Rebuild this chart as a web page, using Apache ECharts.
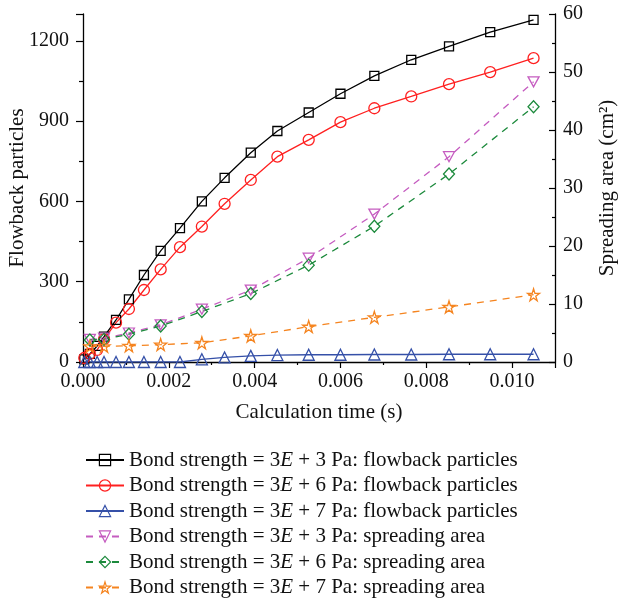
<!DOCTYPE html>
<html>
<head>
<meta charset="utf-8">
<script src="https://cdn.jsdelivr.net/npm/echarts@6/dist/echarts.min.js"></script>
<style>html,body{margin:0;padding:0;background:#fff;}#c{width:618px;height:599px;}</style>
</head>
<body>
<div id="c"></div>
<script>
// Time values (s) for flowback series
var timeFlow = [0.00003, 0.00016, 0.00033, 0.00049, 0.00077, 0.00107, 0.00142, 0.00181, 0.00226, 0.00277,
                0.0033, 0.00391, 0.00453, 0.00526, 0.006, 0.00679, 0.00765, 0.00853, 0.00949, 0.0105];
// Time values (s) for spreading area series
var timeSpread = [0.00016, 0.00049, 0.00107, 0.00181, 0.00277, 0.00391, 0.00526, 0.00679, 0.00853, 0.0105];

var flow3 = [10, 30, 60, 95, 157, 234, 325, 415, 500, 600, 688, 782, 863, 932, 1002, 1069, 1129, 1179, 1232, 1278];
var flow6 = [15, 30, 45, 85, 147, 198, 269, 346, 429, 506, 591, 680, 767, 830, 896, 948, 992, 1038, 1083, 1135];
var flow7 = [0, 0, 0, 0, 0, 0, 0, 0, 0, 10, 17, 23, 26, 27, 27, 28, 28, 29, 29, 29];

var spread3 = [3.9, 4.1, 5.0, 6.4, 9.1, 12.4, 17.9, 25.5, 35.4, 48.3];
var spread6 = [3.8, 3.9, 4.8, 6.2, 8.7, 11.8, 16.7, 23.4, 32.4, 44.0];
var spread7 = [2.7, 2.7, 2.8, 3.0, 3.3, 4.5, 6.1, 7.7, 9.5, 11.6];

var names = [
  'Bond strength = 3E + 3 Pa: flowback particles',
  'Bond strength = 3E + 6 Pa: flowback particles',
  'Bond strength = 3E + 7 Pa: flowback particles',
  'Bond strength = 3E + 3 Pa: spreading area',
  'Bond strength = 3E + 6 Pa: spreading area',
  'Bond strength = 3E + 7 Pa: spreading area'
];
var colors = ['#000000', '#ff2020', '#3550a8', '#c55cc0', '#1c8a3c', '#f5841f'];

function pairs(xs, ys) { return xs.map(function (x, i) { return [x, ys[i]]; }); }

var FONT = 'Liberation Serif';
var downTri = 'path://M0,0 L10,0 L5,9 Z';
var star = 'path://M50,0 L61,35 L98,35 L68,57 L79,91 L50,70 L21,91 L32,57 L2,35 L39,35 Z';

function mk(idx, data, symbol, size, yIdx, dashed) {
  var color = colors[idx];
  return {
    name: names[idx], type: 'line', yAxisIndex: yIdx, data: data,
    symbol: symbol, symbolSize: size, showAllSymbol: true,
    lineStyle: { color: color, width: 1.3, type: dashed ? [7, 6] : 'solid' },
    itemStyle: { color: 'rgba(255,255,255,0)', borderColor: color, borderWidth: 1.3 },
    emphasis: { disabled: true },
    z: 2
  };
}

var chart = echarts.init(document.getElementById('c'), null, { renderer: 'canvas' });
var axisText = { color: '#111', fontFamily: FONT, fontSize: 20 };
var nameText = { fontFamily: FONT, fontSize: 21, color: '#111' };
chart.setOption({
  animation: false,
  backgroundColor: '#fff',
  textStyle: { fontFamily: FONT },
  grid: { left: 83, right: 63, top: 14, bottom: 237, containLabel: false, outerBoundsMode: 'none' },
  legend: {
    orient: 'vertical', left: 80, top: 444, height: 160,
    itemWidth: 38, itemHeight: 14, itemGap: 3.5,
    textStyle: {
      fontFamily: FONT, fontSize: 21, color: '#111', lineHeight: 22,
      rich: { i: { fontFamily: FONT, fontSize: 21, fontStyle: 'italic', color: '#111', lineHeight: 22 } }
    },
    formatter: function (n) { return n.replace('3E', '3{i|E}'); },
    data: names.map(function (n, i) {
      return { name: n, itemStyle: { color: 'rgba(255,255,255,0)', borderColor: colors[i], borderWidth: 1.2 } };
    })
  },
  xAxis: {
    type: 'value', min: 0, max: 0.011, interval: 0.002,
    name: 'Calculation time (s)', nameLocation: 'middle', nameGap: 40, nameMoveOverlap: false,
    nameTextStyle: nameText,
    axisLine: { show: true, lineStyle: { color: '#000', width: 1.3 } },
    axisTick: { show: true, length: 6, lineStyle: { color: '#000', width: 1.2 } },
    minorTick: { show: true, splitNumber: 2, length: 3, lineStyle: { color: '#000', width: 1.2 } },
    splitLine: { show: false },
    axisLabel: Object.assign({ showMaxLabel: false, margin: 10, formatter: function (v) { return v.toFixed(3); } }, axisText)
  },
  yAxis: [{
    type: 'value', min: 0, max: 1300, interval: 300, position: 'left',
    name: 'Flowback particles', nameLocation: 'middle', nameGap: 55, nameMoveOverlap: false,
    nameTextStyle: nameText,
    axisLine: { show: true, lineStyle: { color: '#000', width: 1.3 } },
    axisTick: { show: true, length: 7, lineStyle: { color: '#000', width: 1.2 } },
    minorTick: { show: true, splitNumber: 2, length: 4, lineStyle: { color: '#000', width: 1.2 } },
    splitLine: { show: false },
    axisLabel: Object.assign({ showMaxLabel: false, margin: 14, formatter: function (v) { return String(v); } }, axisText)
  }, {
    type: 'value', min: 0, max: 60, interval: 10, position: 'right',
    name: 'Spreading area (cm²)', nameLocation: 'middle', nameGap: 42, nameMoveOverlap: false,
    nameTextStyle: nameText,
    axisLine: { show: true, lineStyle: { color: '#000', width: 1.3 } },
    axisTick: { show: true, inside: true, length: 6, lineStyle: { color: '#000', width: 1.2 } },
    minorTick: { show: true, splitNumber: 2, length: 3, lineStyle: { color: '#000', width: 1.2 } },
    splitLine: { show: false },
    axisLabel: Object.assign({ margin: 8, formatter: function (v) { return String(v); } }, axisText)
  }],
  series: [
    mk(0, pairs(timeFlow, flow3), 'rect', 9, 0, false),
    mk(1, pairs(timeFlow, flow6), 'circle', 11, 0, false),
    mk(2, pairs(timeFlow, flow7), 'triangle', 11, 0, false),
    mk(3, pairs(timeSpread, spread3), downTri, [11, 10], 1, true),
    mk(4, pairs(timeSpread, spread6), 'diamond', [11, 12], 1, true),
    mk(5, pairs(timeSpread, spread7), star, 12, 1, true)
  ]
});
</script>
</body>
</html>
